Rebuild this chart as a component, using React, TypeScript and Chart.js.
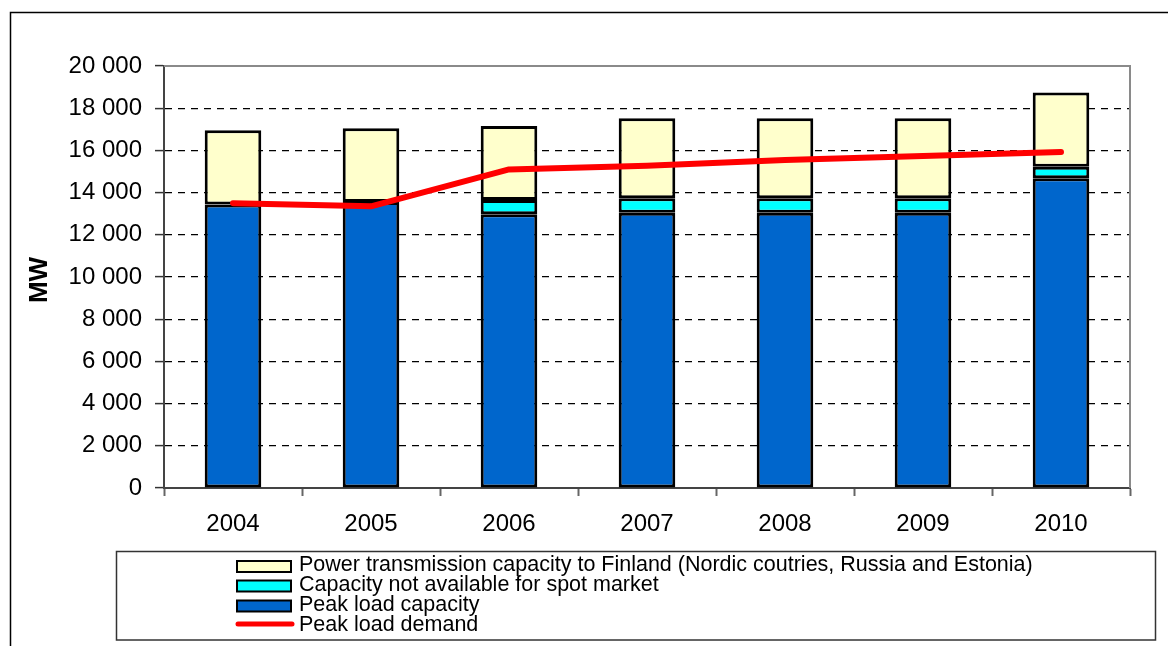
import { useEffect, useRef } from "react";
import { Chart, registerables } from "chart.js";

Chart.register(...registerables);

const years = ["2004", "2005", "2006", "2007", "2008", "2009", "2010"];
const peakLoadCapacity = [13440, 13560, 12970, 13050, 13050, 13050, 14680];
const notAvailableForSpot = [null, null, 680, 680, 680, 680, 550];
const transmissionCapacity = [3510, 3490, 3510, 3790, 3790, 3790, 3520];
const peakLoadDemand = [13500, 13350, 15100, 15270, 15540, 15730, 15920];

const labelTransmission = "Power transmission capacity to Finland (Nordic coutries, Russia and Estonia)";
const labelNotAvailable = "Capacity not available for spot market";
const labelPeakCapacity = "Peak load capacity";
const labelPeakDemand = "Peak load demand";
const yAxisTitle = "MW";

const FONT = "'Liberation Sans', Arial, sans-serif";

const fmt = (v: number) => {
  const s = String(Math.round(v));
  return s.replace(/\B(?=(\d{3})+(?!\d))/g, " ");
};

const decorPlugin = {
  id: "decor",
  beforeDraw(chart: any) {
    const ctx = chart.ctx;
    ctx.save();
    ctx.fillStyle = "#ffffff";
    ctx.fillRect(0, 0, chart.width, chart.height);
    ctx.restore();
  },
  afterDraw(chart: any) {
    const ctx = chart.ctx;
    const a = chart.chartArea;
    ctx.save();
    // outer frame
    ctx.strokeStyle = "#000";
    ctx.lineWidth = 1.5;
    ctx.beginPath();
    ctx.moveTo(10.5, chart.height);
    ctx.lineTo(10.5, 12.5);
    ctx.lineTo(chart.width, 12.5);
    ctx.stroke();
    // plot area border (top & right)
    ctx.strokeStyle = "#8a8a8a";
    ctx.lineWidth = 2;
    ctx.beginPath();
    ctx.moveTo(a.left, a.top);
    ctx.lineTo(a.right, a.top);
    ctx.lineTo(a.right, a.bottom);
    ctx.stroke();
    // y title
    ctx.save();
    ctx.translate(40, 280);
    ctx.rotate(-Math.PI / 2);
    ctx.font = `bold 26px ${FONT}`;
    ctx.fillStyle = "#000";
    ctx.textAlign = "center";
    ctx.textBaseline = "middle";
    ctx.fillText(yAxisTitle, 0, 0);
    ctx.restore();
    // legend box
    ctx.strokeStyle = "#333";
    ctx.lineWidth = 1.5;
    ctx.strokeRect(116.5, 551.5, 1039, 88.5);
    const ds = chart.data.datasets;
    const items = [ds[2], ds[1], ds[0], ds[3]];
    const baselines = [571.3, 591.3, 611.3, 631.3];
    const centers = [566.5, 586, 606, 624];
    items.forEach((d: any, i: number) => {
      const b = baselines[i];
      const cy = centers[i];
      if (d.type === "line") {
        ctx.strokeStyle = d.borderColor;
        ctx.lineWidth = 5;
        ctx.lineCap = "round";
        ctx.beginPath();
        ctx.moveTo(238, cy);
        ctx.lineTo(292, cy);
        ctx.stroke();
      } else {
        ctx.fillStyle = d.backgroundColor;
        ctx.fillRect(237, cy - 5.5, 54, 11);
        ctx.strokeStyle = "#000";
        ctx.lineWidth = 2;
        ctx.strokeRect(237, cy - 5.5, 54, 11);
      }
      ctx.font = `21.5px ${FONT}`;
      ctx.fillStyle = "#000";
      ctx.textAlign = "left";
      ctx.textBaseline = "alphabetic";
      ctx.fillText(d.label, 299, b);
    });
    ctx.restore();
  },
};

export default function App() {
  const ref = useRef<HTMLCanvasElement | null>(null);
  useEffect(() => {
    if (!ref.current) return;
    Chart.defaults.font.family = FONT;
    const barCommon = {
      type: "bar",
      borderColor: "#000",
      borderWidth: 3,
      borderSkipped: false,
      inflateAmount: 0,
      stack: "bars",
      order: 1,
    };
    const chart = new Chart(ref.current, {
      data: {
        labels: years,
        datasets: [
          { ...barCommon, label: labelPeakCapacity, data: peakLoadCapacity, backgroundColor: "#0066CC" },
          { ...barCommon, label: labelNotAvailable, data: notAvailableForSpot as any, backgroundColor: "#00FFFF" },
          { ...barCommon, label: labelTransmission, data: transmissionCapacity, backgroundColor: "#FFFFCC" },
          {
            type: "line",
            label: labelPeakDemand,
            data: peakLoadDemand,
            borderColor: "#FF0000",
            backgroundColor: "#FF0000",
            borderWidth: 6,
            borderCapStyle: "round",
            borderJoinStyle: "round",
            pointRadius: 0,
            tension: 0,
            stack: "line",
            order: 0,
          },
        ],
      } as any,
      options: {
        responsive: false,
        animation: false,
        devicePixelRatio: 1,
        layout: { padding: { top: 66, right: 38, left: 0, bottom: 0 } },
        datasets: { bar: { barPercentage: 0.41, categoryPercentage: 1 } },
        plugins: { legend: { display: false }, tooltip: { enabled: false } },
        scales: {
          x: {
            stacked: true,
            afterFit: (s: any) => {
              s.height = 158;
            },
            grid: {
              offset: true,
              drawOnChartArea: false,
              tickLength: 8,
              tickColor: "#666",
              tickWidth: 2,
            },
            border: { color: "#444", width: 2 },
            ticks: { color: "#000", font: { size: 24 }, padding: 14, maxRotation: 0 },
          },
          y: {
            stacked: true,
            min: 0,
            max: 20000,
            afterFit: (s: any) => {
              s.width = 164;
            },
            grid: {
              color: (c: any) =>
                c.tick && (c.tick.value === 0 || c.tick.value === 20000) ? "rgba(0,0,0,0)" : "#000",
              lineWidth: 1.2,
              tickLength: 9,
              tickColor: "#333",
              tickWidth: 1.5,
              tickBorderDash: [],
            },
            border: { color: "#444", width: 2, dash: [7, 6] },
            ticks: {
              stepSize: 2000,
              color: "#000",
              font: { size: 24 },
              padding: 13,
              callback: (v: any) => fmt(Number(v)),
            },
          },
        },
      } as any,
      plugins: [decorPlugin],
    });
    return () => chart.destroy();
  }, []);
  return (
    <div style={{ position: "fixed", left: 0, top: 0, width: 1168, height: 646, background: "#fff" }}>
      <canvas ref={ref} width={1168} height={646} style={{ display: "block", width: 1168, height: 646 }} />
    </div>
  );
}
